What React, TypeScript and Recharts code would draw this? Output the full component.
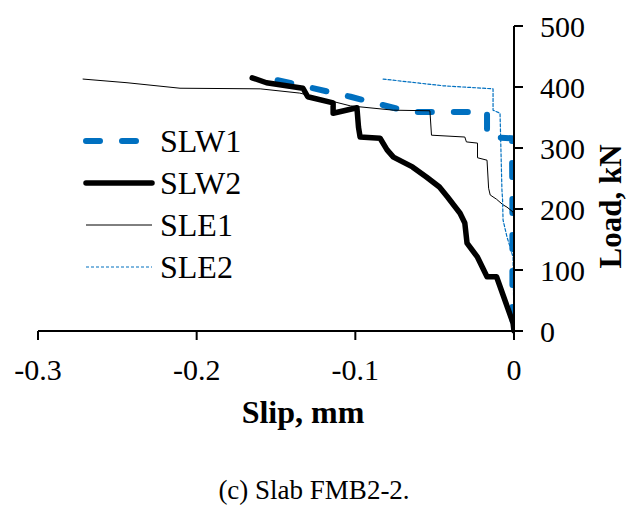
import { LineChart, Line, XAxis, YAxis } from "recharts";

const FONT = "'Liberation Serif', 'Times New Roman', serif";
const BLUE = "#0070C0";

const xTicks = [-0.3, -0.2, -0.1, 0];
const yTicks = [0, 100, 200, 300, 400, 500];

// slip (mm), load (kN)
const slw1 = [
  { x: -0.149, y: 411 },
  { x: -0.135, y: 403 },
  { x: -0.103, y: 384 },
  { x: -0.0655, y: 359 },
  { x: -0.017, y: 359 },
  { x: -0.017, y: 318 },
  { x: -0.0013, y: 316 },
  { x: -0.001, y: 215 },
  { x: -0.001, y: 20 },
  { x: 0, y: 0 },
];

const slw2 = [
  { x: -0.165, y: 415 },
  { x: -0.156, y: 407 },
  { x: -0.133, y: 398 },
  { x: -0.13, y: 384 },
  { x: -0.114, y: 374 },
  { x: -0.114, y: 357 },
  { x: -0.099, y: 366 },
  { x: -0.098, y: 334 },
  { x: -0.097, y: 318 },
  { x: -0.0844, y: 316 },
  { x: -0.08, y: 297 },
  { x: -0.076, y: 285 },
  { x: -0.064, y: 269 },
  { x: -0.055, y: 252 },
  { x: -0.047, y: 236 },
  { x: -0.042, y: 220 },
  { x: -0.034, y: 193 },
  { x: -0.031, y: 177 },
  { x: -0.0296, y: 144 },
  { x: -0.023, y: 121 },
  { x: -0.017, y: 89 },
  { x: -0.011, y: 89 },
  { x: -0.0006, y: 13 },
  { x: 0, y: 0 },
];

const sle1 = [
  { x: -0.2716, y: 413 },
  { x: -0.2439, y: 407 },
  { x: -0.2105, y: 398 },
  { x: -0.16, y: 397 },
  { x: -0.135, y: 390 },
  { x: -0.103, y: 369 },
  { x: -0.076, y: 362 },
  { x: -0.053, y: 361 },
  { x: -0.052, y: 321 },
  { x: -0.031, y: 318 },
  { x: -0.03, y: 310 },
  { x: -0.023, y: 308 },
  { x: -0.023, y: 284 },
  { x: -0.017, y: 280 },
  { x: -0.016, y: 234 },
  { x: -0.015, y: 223 },
  { x: -0.011, y: 216 },
  { x: -0.007, y: 207 },
  { x: -0.0044, y: 203 },
  { x: -0.0006, y: 195 },
  { x: 0, y: 182 },
  { x: 0, y: 0 },
];

const sle2 = [
  { x: -0.0825, y: 413 },
  { x: -0.0447, y: 402 },
  { x: -0.0132, y: 397 },
  { x: -0.0132, y: 362 },
  { x: -0.0088, y: 357 },
  { x: -0.0076, y: 231 },
  { x: -0.0072, y: 215 },
  { x: -0.0069, y: 182 },
  { x: -0.0044, y: 154 },
  { x: -0.0025, y: 138 },
  { x: -0.0006, y: 121 },
  { x: 0, y: 0 },
];

const series = [
  { name: "SLW1", data: slw1, color: BLUE, width: 6, dash: "14 22" },
  { name: "SLW2", data: slw2, color: "#000", width: 5.5, dash: undefined },
  { name: "SLE1", data: sle1, color: "#000", width: 1, dash: undefined },
  { name: "SLE2", data: sle2, color: BLUE, width: 1.2, dash: "3 2" },
];

const tickStyle = { fontFamily: FONT, fontSize: 30, fill: "#000" };

export default function App() {
  return (
    <div style={{ position: "relative", width: 628, height: 508, background: "#fff", fontFamily: FONT }}>
      <style>{`body{margin:0}`}</style>
      <LineChart width={628} height={508} margin={{ top: 26, right: 0, bottom: 67, left: 38 }}>
        <XAxis
          type="number"
          dataKey="x"
          domain={[-0.3, 0]}
          ticks={xTicks}
          allowDataOverflow
          height={110}
          tick={tickStyle}
          tickSize={9}
          tickMargin={19}
          axisLine={{ stroke: "#000", strokeWidth: 2 }}
          tickLine={{ stroke: "#000", strokeWidth: 2 }}
          label={{
            content: (p: any) => {
              const vb = p.viewBox;
              return (
                <text x={vb.x + vb.width / 2 + 27} y={vb.y + 92} textAnchor="middle" fontFamily={FONT} fontSize={32} fontWeight="bold" fill="#000">
                  Slip, mm
                </text>
              );
            },
          }}
        />
        <YAxis
          type="number"
          orientation="right"
          domain={[0, 500]}
          ticks={yTicks}
          width={114}
          tick={tickStyle}
          tickSize={9}
          tickMargin={17}
          axisLine={{ stroke: "#000", strokeWidth: 2 }}
          tickLine={{ stroke: "#000", strokeWidth: 2 }}
          label={{
            content: (p: any) => {
              const vb = p.viewBox;
              const cx = vb.x + 107;
              const cy = vb.y + vb.height / 2 + 28;
              return (
                <text x={cx} y={cy} transform={`rotate(-90 ${cx} ${cy})`} textAnchor="middle" fontFamily={FONT} fontSize={31} fontWeight="bold" fill="#000">
                  Load, kN
                </text>
              );
            },
          }}
        />
        {series.map((s) => (
          <Line
            key={s.name}
            data={s.data}
            dataKey="y"
            name={s.name}
            type="linear"
            stroke={s.color}
            strokeWidth={s.width}
            strokeDasharray={s.dash}
            strokeLinecap="round"
            strokeLinejoin="round"
            dot={false}
            activeDot={false}
            isAnimationActive={false}
          />
        ))}
      </LineChart>
      <div style={{ position: "absolute", left: 83, top: 120 }}>
        {series.map((s) => (
          <div key={s.name} style={{ display: "flex", alignItems: "center", height: 42 }}>
            <svg width={72} height={12} style={{ marginRight: 5 }}>
              <line x1={3} y1={6} x2={69} y2={6} stroke={s.color} strokeWidth={s.width} strokeDasharray={s.dash} strokeLinecap={s.width > 2 ? "round" : "butt"} />
            </svg>
            <span style={{ fontSize: 32, lineHeight: "42px", color: "#000" }}>{s.name}</span>
          </div>
        ))}
      </div>
      <div style={{ position: "absolute", left: 0, width: 628, top: 472, textAlign: "center", fontSize: 27, lineHeight: "36px", color: "#000" }}>
        (c) Slab FMB2-2.
      </div>
    </div>
  );
}
